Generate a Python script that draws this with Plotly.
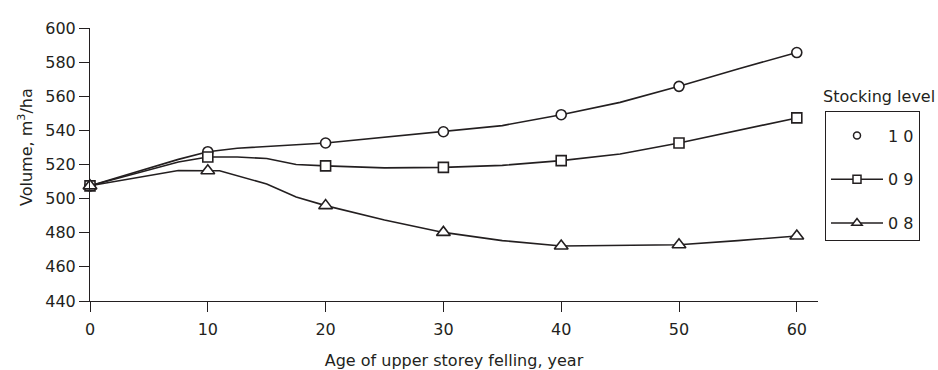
import plotly.graph_objects as go

# Volume (m3/ha) by age of upper storey felling (years), per stocking level
ages = [0, 10, 20, 30, 40, 50, 60]
vol_10 = [507.5, 527.5, 532.6, 539.2, 549.2, 565.8, 585.6]
vol_09 = [507.5, 524.4, 519.2, 518.3, 522.3, 532.6, 547.3]
vol_08 = [507.5, 516.3, 495.9, 480.2, 472.2, 473.0, 478.1]

# Vertices of the smoothed curves drawn through the measured points
curve_age_10 = [0, 7.5, 10, 12.5, 20, 30, 35, 40, 45, 50, 55, 60]
curve_vol_10 = [507.5, 523.0, 527.5, 529.5, 532.6, 539.2, 542.8, 549.2, 556.4, 565.8, 576.0, 585.6]
curve_age_09 = [0, 7.5, 10, 12.5, 15, 17.5, 20, 25, 30, 35, 40, 45, 50, 55, 60]
curve_vol_09 = [507.5, 521.5, 524.4, 524.4, 523.5, 520.0, 519.2, 518.0, 518.3, 519.5, 522.3, 526.2, 532.6, 540.0, 547.3]
curve_age_08 = [0, 7.5, 10, 11, 15, 17.5, 20, 25, 30, 35, 40, 45, 50, 55, 60]
curve_vol_08 = [507.5, 516.5, 516.3, 516.3, 508.6, 501.0, 495.9, 487.5, 480.2, 475.4, 472.2, 472.4, 473.0, 475.4, 478.1]

x_ticks = [0, 10, 20, 30, 40, 50, 60]
y_ticks = [440, 460, 480, 500, 520, 540, 560, 580, 600]
legend_labels = ["1 0", "0 9", "0 8"]

INK = "#231f20"
FONT = "DejaVu Sans"

series = [
    (curve_age_10, curve_vol_10, vol_10, "circle", 10, 7, legend_labels[0], "markers"),
    (curve_age_09, curve_vol_09, vol_09, "square", 10, 8, legend_labels[1], "lines+markers"),
    (curve_age_08, curve_vol_08, vol_08, "triangle-up", 12, 9, legend_labels[2], "lines+markers"),
]

fig = go.Figure()
for i, (cx, cy, my, sym, size, leg_size, label, legmode) in enumerate(series):
    fig.add_trace(go.Scatter(x=cx, y=cy, mode="lines", line=dict(color=INK, width=1.6),
                             showlegend=False, hoverinfo="skip"))
    fig.add_trace(go.Scatter(x=ages, y=my, mode="markers",
                             marker=dict(symbol=sym, size=size, color="white",
                                         line=dict(color=INK, width=1.6)),
                             showlegend=False, cliponaxis=False))
    # legend entry
    fig.add_trace(go.Scatter(x=[None], y=[None], mode=legmode, name=label,
                             marker=dict(symbol=sym, size=leg_size, color="white",
                                         line=dict(color=INK, width=1.5)),
                             line=dict(color=INK, width=1.5),
                             legendgroup=f"g{i}"))

axis_common = dict(showgrid=False, zeroline=False, color=INK, automargin=False,
                   tickfont=dict(family=FONT, size=16, color=INK))

# plot area in pixels: x 90..818, y 28..301
PL, PR, PT, PB = 90, 818, 28, 301

fig.update_layout(
    width=938, height=370,
    margin=dict(l=PL, r=938 - PR, t=PT, b=370 - PB),
    paper_bgcolor="white", plot_bgcolor="white",
    font=dict(family=FONT, color=INK),
    xaxis=dict(range=[0, 61.8], tickvals=x_ticks, ticks="outside", ticklen=10,
               tickwidth=1, tickcolor=INK, showline=True, linecolor=INK, linewidth=1,
               ticklabelstandoff=4,
               title=dict(text="Age of upper storey felling, year",
                          font=dict(family=FONT, size=16, color=INK), standoff=16),
               **axis_common),
    yaxis=dict(range=[440, 600], tickvals=y_ticks, ticks="outside", ticklen=10,
               tickwidth=1, tickcolor=INK, showline=True, linecolor=INK, linewidth=1,
               **axis_common),
    # inner halves of the crossing tick marks
    xaxis2=dict(overlaying="x", anchor="y", side="bottom", range=[0, 61.8],
                tickvals=x_ticks, ticks="inside", ticklen=10, tickwidth=1,
                tickcolor=INK, showticklabels=False, showline=False,
                showgrid=False, zeroline=False),
    yaxis2=dict(overlaying="y", anchor="x", side="left", range=[440, 600],
                tickvals=y_ticks, ticks="inside", ticklen=10, tickwidth=1,
                tickcolor=INK, showticklabels=False, showline=False,
                showgrid=False, zeroline=False),
    legend=dict(x=825 / 938, xanchor="left", y=1 - 111 / 370, yanchor="top",
                xref="container", yref="container",
                bordercolor=INK, borderwidth=1, bgcolor="white",
                font=dict(family=FONT, size=16, color=INK),
                title=dict(text=" ", font=dict(size=5)),
                itemwidth=52, tracegroupgap=20, traceorder="grouped",
                entrywidth=60, entrywidthmode="pixels"),
    annotations=[
        dict(text="Stocking level", xref="paper", yref="paper",
             x=(821 - PL) / (PR - PL), y=(PB - 96) / (PB - PT),
             xanchor="left", yanchor="middle", showarrow=False,
             font=dict(family=FONT, size=16, color=INK)),
        dict(text="Volume, m<sup>3</sup>/ha", xref="paper", yref="paper",
             x=(25 - PL) / (PR - PL), y=(PB - 147) / (PB - PT),
             xanchor="center", yanchor="middle", textangle=-90, showarrow=False,
             font=dict(family=FONT, size=16, color=INK)),
    ],
)

fig.write_html("out.html")
